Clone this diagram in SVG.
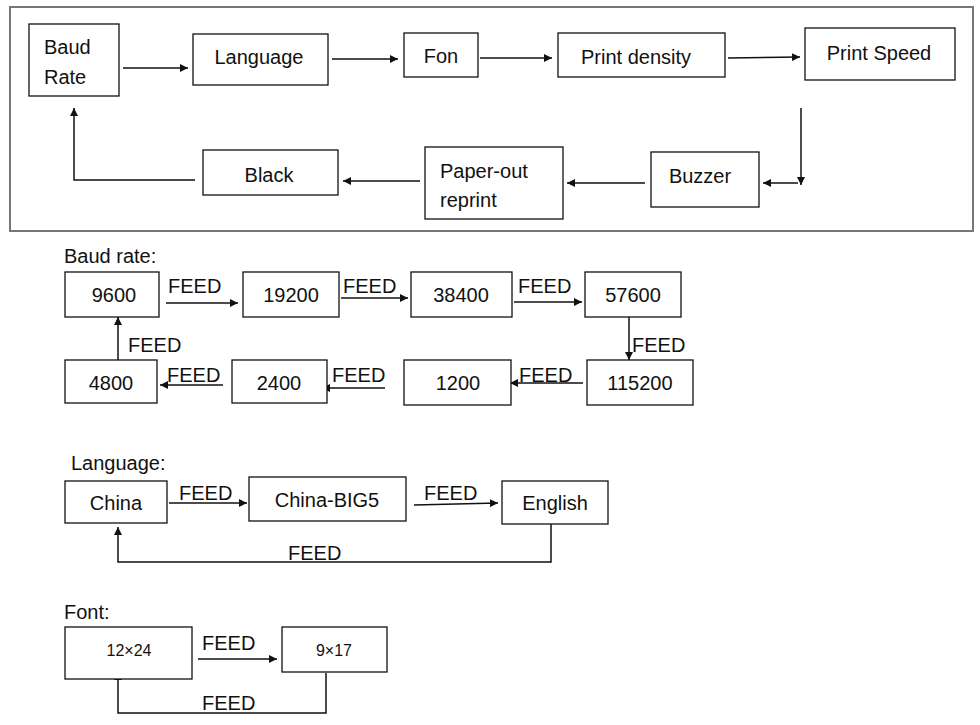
<svg xmlns="http://www.w3.org/2000/svg" width="980" height="725" viewBox="0 0 980 725">
<style>
text{font-family:"Liberation Sans",Arial,sans-serif;font-size:20px;fill:#111}
.c{text-anchor:middle}
.b rect{fill:#fff;stroke:#111;stroke-width:1.3}
.f{font-size:20px}
#connectors path{fill:none;stroke:#111;stroke-width:1.5}
</style>
<defs><marker id="a" viewBox="0 0 10 10" refX="10" refY="5" markerWidth="8" markerHeight="8" orient="auto" markerUnits="userSpaceOnUse"><path d="M0,0L10,5L0,10z" fill="#111"/></marker></defs>
<rect x="10" y="7" width="963" height="224" fill="#fff" stroke="#777" stroke-width="2"/>
<g id="connectors">
<path d="M123,68H188" marker-end="url(#a)"/>
<path d="M332,59H398" marker-end="url(#a)"/>
<path d="M480,58H552" marker-end="url(#a)"/>
<path d="M728,58L800,57" marker-end="url(#a)"/>
<path d="M801,108V185" marker-end="url(#a)"/>
<path d="M798,183H763" marker-end="url(#a)"/>
<path d="M645,183H567" marker-end="url(#a)"/>
<path d="M420,181H343" marker-end="url(#a)"/>
<path d="M195,180H74V108" marker-end="url(#a)"/>
<path d="M166,303H238" marker-end="url(#a)"/>
<path d="M341,298H408" marker-end="url(#a)"/>
<path d="M514,302H582" marker-end="url(#a)"/>
<path d="M629,317V360" marker-end="url(#a)"/>
<path d="M583,383H510" marker-end="url(#a)"/>
<path d="M385,388H322" marker-end="url(#a)"/>
<path d="M223,385H160" marker-end="url(#a)"/>
<path d="M118,360V317" marker-end="url(#a)"/>
<path d="M169,503H247" marker-end="url(#a)"/>
<path d="M414,505L498,503" marker-end="url(#a)"/>
<path d="M551,524V562H118V527" marker-end="url(#a)"/>
<path d="M198,659H277" marker-end="url(#a)"/>
<path d="M326,673V713H118V672" marker-end="url(#a)"/>
</g>
<g class="f">
<text x="168" y="293">FEED</text><text x="343" y="293">FEED</text><text x="518" y="293">FEED</text>
<text x="632" y="352">FEED</text><text x="519" y="382">FEED</text><text x="332" y="382">FEED</text>
<text x="167" y="382">FEED</text><text x="128" y="352">FEED</text>
<text x="179" y="500">FEED</text><text x="424" y="500">FEED</text><text x="288" y="560">FEED</text>
<text x="202" y="650">FEED</text><text x="202" y="710">FEED</text>
</g>
<g class="b">
<g id="n-baud"><rect x="29" y="24" width="90" height="72"/><text x="44" y="54">Baud</text><text x="44" y="84">Rate</text></g>
<g id="n-lang"><rect x="193" y="34" width="135" height="51"/><text class="c" x="259" y="64">Language</text></g>
<g id="n-fon"><rect x="404" y="33" width="74" height="44"/><text class="c" x="441" y="63">Fon</text></g>
<g id="n-density"><rect x="558" y="33" width="167" height="44"/><text class="c" x="636" y="64">Print density</text></g>
<g id="n-speed"><rect x="805" y="28" width="150" height="52"/><text class="c" x="879" y="60">Print Speed</text></g>
<g id="n-buzzer"><rect x="651" y="152" width="108" height="55"/><text class="c" x="700" y="183">Buzzer</text></g>
<g id="n-paper"><rect x="425" y="147" width="138" height="72"/><text x="440" y="178">Paper-out</text><text x="440" y="207">reprint</text></g>
<g id="n-black"><rect x="203" y="150" width="135" height="45"/><text class="c" x="269" y="182">Black</text></g>
<text x="64" y="263">Baud rate:</text>
<g id="b9600"><rect x="65" y="272" width="94" height="45"/><text class="c" x="114" y="302">9600</text></g>
<g id="b19200"><rect x="243" y="272" width="96" height="45"/><text class="c" x="291" y="302">19200</text></g>
<g id="b38400"><rect x="411" y="272" width="101" height="45"/><text class="c" x="461" y="302">38400</text></g>
<g id="b57600"><rect x="585" y="272" width="96" height="45"/><text class="c" x="633" y="302">57600</text></g>
<g id="b115200"><rect x="587" y="360" width="106" height="45"/><text class="c" x="640" y="390">115200</text></g>
<g id="b1200"><rect x="404" y="360" width="107" height="45"/><text class="c" x="458" y="390">1200</text></g>
<g id="b2400"><rect x="232" y="360" width="95" height="43"/><text class="c" x="279" y="390">2400</text></g>
<g id="b4800"><rect x="65" y="360" width="92" height="43"/><text class="c" x="111" y="390">4800</text></g>
<text x="71" y="470">Language:</text>
<g id="l-china"><rect x="65" y="481" width="102" height="42"/><text class="c" x="116" y="510">China</text></g>
<g id="l-big5"><rect x="249" y="477" width="157" height="44"/><text class="c" x="327" y="507">China-BIG5</text></g>
<g id="l-eng"><rect x="502" y="481" width="106" height="43"/><text class="c" x="555" y="510">English</text></g>
<text x="64" y="619">Font:</text>
<g id="f-1224"><rect x="65" y="627" width="127" height="52"/><text class="c" x="129" y="656" style="font-size:16px">12×24</text></g>
<g id="f-917"><rect x="282" y="627" width="105" height="45"/><text class="c" x="334" y="656" style="font-size:16px">9×17</text></g>
</g>
</svg>
